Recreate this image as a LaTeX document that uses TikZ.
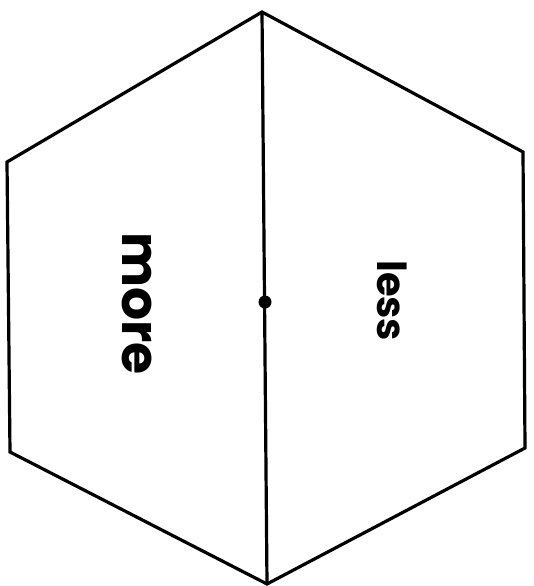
\documentclass[tikz,border=0pt]{standalone}
\usepackage{fontspec}
\setmainfont{Poppins}
\begin{document}
\begin{tikzpicture}[x=1pt,y=-1pt,
  edge/.style={line width=3.2pt,line join=miter,black},
  lbl/.style={inner sep=0pt,rotate=-90,anchor=base west}]
\useasboundingbox (0,0) rectangle (534,586);
\coordinate (T) at (262,12);
\coordinate (UR) at (523,152);
\coordinate (LR) at (525,448);
\coordinate (B) at (267,584);
\coordinate (LL) at (10,452);
\coordinate (UL) at (7,162);
\coordinate (C) at (265,302);
\draw[edge] (T) -- (UR) -- (LR) -- (B) -- (LL) -- (UL) -- cycle;
\draw[edge] (T) -- (B);
\fill (C) circle (6.5);
\node[lbl,font=\fontsize{52}{52}\selectfont\bfseries] (more) at (122,232) {more};
\node[lbl,font=\fontsize{40}{40}\selectfont\bfseries] (less) at (377,260) {less};
\end{tikzpicture}
\end{document}
